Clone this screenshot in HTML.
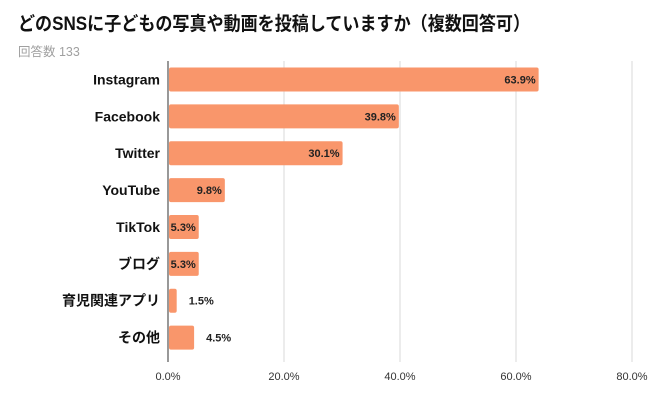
<!DOCTYPE html>
<html><head><meta charset="utf-8"><style>
body{margin:0;background:#fff;}
svg{display:block;font-family:"Liberation Sans","Noto Sans CJK JP",sans-serif;}
</style></head><body>
<svg width="650" height="402" id="chart">
<text x="18" y="30" font-size="19" font-weight="bold" fill="#111" textLength="512" lengthAdjust="spacingAndGlyphs">どのSNSに子どもの写真や動画を投稿していますか（複数回答可）</text>
<text x="18" y="56" font-size="12.5" fill="#a0a0a0">回答数 133</text>
<g id="grid"></g><g id="bars"></g>
</svg>
<script>
const categories=["Instagram","Facebook","Twitter","YouTube","TikTok","ブログ","育児関連アプリ","その他"];
const values=[63.9,39.8,30.1,9.8,5.3,5.3,1.5,4.5];
const ticks=[0,20,40,60,80];
const NS="http://www.w3.org/2000/svg";
const X0=168,X1=632,TOP=61,BOTTOM=356,MAXV=80;
const xs=v=>X0+(v/MAXV)*(X1-X0);
const band=(BOTTOM-TOP)/categories.length;
const ys=i=>TOP+band*i+band/2;
function mk(t,a,p){const e=document.createElementNS(NS,t);for(const k in a)e.setAttribute(k,a[k]);p.appendChild(e);return e;}
const grid=document.getElementById('grid'),bars=document.getElementById('bars');
ticks.forEach(t=>{
 const l=mk('line',{x1:xs(t),x2:xs(t),y1:TOP,y2:BOTTOM+6,stroke:t===0?'#555':'#d9d9d9','stroke-width':t===0?1.2:1},grid);
 
 
 const tx=mk('text',{x:xs(t),y:380,'font-size':11,fill:'#333','text-anchor':'middle'},grid);
 tx.textContent=t.toFixed(1)+'%';
 
 
});
categories.forEach((c,i)=>{
 const y=ys(i),h=24;
 const r=mk('rect',{x:X0+1,y:y-h/2,width:Math.max(0,xs(values[i])-X0-1),height:h,fill:'#f9966b',rx:2},bars);
 
 
 const lb=mk('text',{x:160,y:y+5,'font-size':14,'font-weight':'bold',fill:'#111','text-anchor':'end'},bars);
 lb.textContent=c;
 
 
 const inside=values[i]>=5;
 const vl=mk('text',{x:inside?xs(values[i])-3:xs(values[i])+12,y:y+4,'font-size':11,'font-weight':'bold',fill:'#222','text-anchor':inside?'end':'start'},bars);
 vl.textContent=values[i].toFixed(1)+'%';
 
 
});
</script>
</body></html>
